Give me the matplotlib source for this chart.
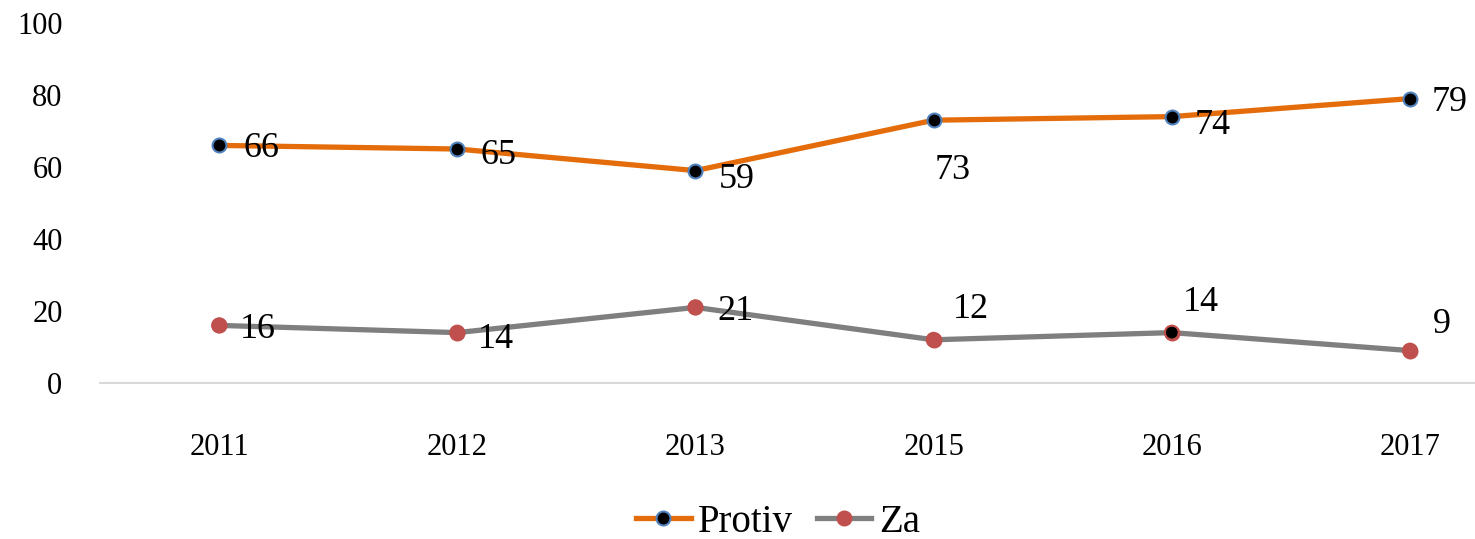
import matplotlib.pyplot as plt

years = ['2011', '2012', '2013', '2015', '2016', '2017']
protiv = [66, 65, 59, 73, 74, 79]
za = [16, 14, 21, 12, 14, 9]

# pomaki oznak podatkov (v pikslih)
protiv_off = [(24, -3), (23, -7), (23, -9), (1, -50), (23, -9), (22, -4)]
za_off = [(21, -4), (21, -7), (22, -4), (19, 30), (11, 30), (23, 26)]
za_face = ['#C0504D', '#C0504D', '#C0504D', '#C0504D', 'black', '#C0504D']

plt.rcParams['font.family'] = ['Liberation Serif', 'DejaVu Serif']

fig = plt.figure(figsize=(14.75, 5.39), dpi=100)
ax = fig.add_axes([100 / 1475, 1 - 383 / 539, 1 - 100 / 1475, 360 / 539])

x = list(range(len(years)))
ax.plot(x, protiv, color='#E46C0A', lw=3.8, marker='o', ms=10,
        mfc='black', mec='#4F81BD', mew=1.5, label='Protiv', zorder=3)
ax.plot(x, za, color='#7F7F7F', lw=3.8, marker='o', ms=10,
        mfc='#C0504D', mec='#C0504D', mew=1.5, label='Za', zorder=3)
ax.scatter(x, za, s=100, c=za_face, edgecolors='#C0504D', linewidths=1.5, zorder=4)

for xi, v, off in zip(x, protiv, protiv_off):
    ax.annotate(str(v), (xi, v), xytext=off, textcoords='offset pixels',
                ha='left', va='center', fontsize=26)
for xi, v, off in zip(x, za, za_off):
    ax.annotate(str(v), (xi, v), xytext=off, textcoords='offset pixels',
                ha='left', va='center', fontsize=26)

# desni rob slike seka kategorijsko os
ax.set_xlim(-0.5, (1475 - 219) / 238.2)
ax.set_ylim(0, 100)
ax.set_yticks(range(0, 101, 20))
ax.set_xticks(x)
ax.set_xticklabels(years)
ax.tick_params(length=0, labelsize=22)
ax.tick_params(axis='x', pad=36)
ax.tick_params(axis='y', pad=27)
for s in ['top', 'right', 'left']:
    ax.spines[s].set_visible(False)
ax.spines['bottom'].set_color('#D9D9D9')
ax.spines['bottom'].set_linewidth(1.5)

fig.legend(loc='center', bbox_to_anchor=(778 / 1475, 1 - 522 / 539), ncol=2,
           frameon=False, fontsize=28, handlelength=1.4, handletextpad=0.2,
           columnspacing=0.6)

fig.savefig('out.png', dpi=100)
